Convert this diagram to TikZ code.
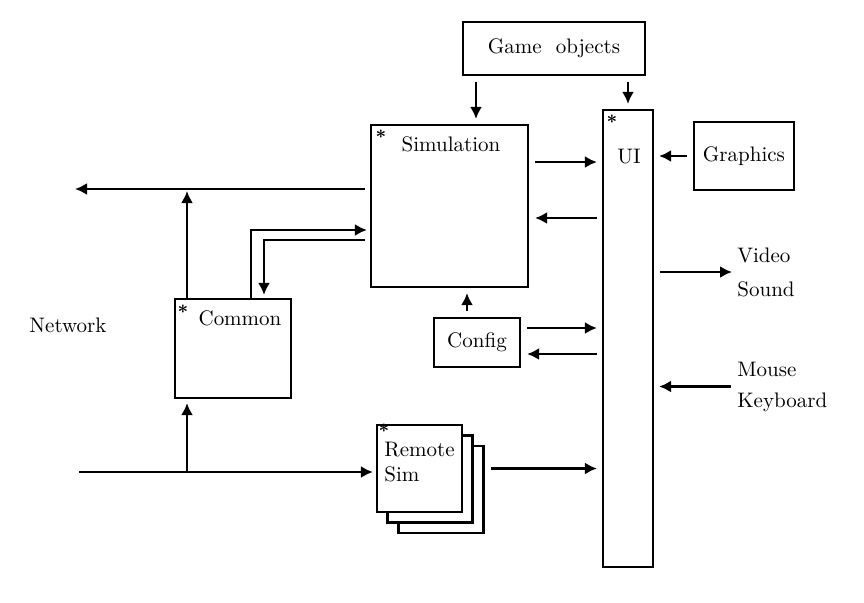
\documentclass[tikz,border=0pt]{standalone}
\usepackage{amssymb}
\usepackage{amsmath}
\usepackage{tikz}
\usetikzlibrary{arrows.meta}

\tikzset{
  >={Latex[length=6pt,width=6pt]},
  blk/.style={draw, line width=1.1pt, inner sep=0pt, fill=white},
  wire/.style={line width=1.1pt},
  spaced/.style={shorten <=3pt, shorten >=2.5pt},
  star/.style={inner sep=0pt, font=\small\bfseries},
  txt/.style={inner sep=0pt, font=\fontsize{10.5}{13}\selectfont}
}

\begin{document}
\begin{tikzpicture}[x=0.5pt,y=-0.5pt]
\useasboundingbox (0,0) rectangle (864,602);

\node [blk, txt, minimum width=91pt, minimum height=26.5pt] (game) at (554,48.5) {Game\ \ objects};

\node [blk, minimum width=78.5pt, minimum height=81pt] (sim) at (449.5,206) {};
\node [txt] (simlbl) at (451,144) {Simulation};
\node [star] (simstar) at (381,137) {*};

\node [blk, minimum width=25pt, minimum height=228.5pt] (ui) at (628,338.5) {};
\node [txt] (uilbl) at (629,157) {UI};
\node [star] (uistar) at (612,122) {*};

\node [blk, txt, minimum width=50pt, minimum height=34pt] (gfx) at (744,156) {Graphics};

\node [blk, minimum width=58pt, minimum height=49.5pt] (common) at (233,348.5) {};
\node [txt] (commonlbl) at (240,318) {Common};
\node [star] (commonstar) at (183,312) {*};

\node [blk, txt, minimum width=43pt, minimum height=24.5pt] (config) at (477,342.5) {Config};

\node [blk, minimum width=42.5pt, minimum height=43.5pt] (rs3) at (441,489.5) {};
\node [blk, minimum width=42.5pt, minimum height=43.5pt] (rs2) at (430,479) {};
\node [blk, minimum width=42.5pt, minimum height=43.5pt] (rs1) at (419.5,468.5) {};
\node [txt, anchor=west, align=left] (rslbl) at (384,462) {Remote\\[-0.5pt]Sim};
\node [star] (rsstar) at (384,431) {*};

\node [txt] (net) at (68,325) {Network};
\node [txt, anchor=west, align=left] (av) at (737,272) {Video\\[4pt]Sound};
\node [txt, anchor=west, align=left] (input) at (737,386.5) {Mouse\\[2.5pt]Keyboard};

\coordinate (netout) at (75,189);
\coordinate (netin) at (79,472);

\draw [wire, ->, spaced] ([xshift=-39pt]game.south) -- ([xshift=-39pt]game.south |- sim.north);
\draw [wire, ->, spaced] (ui.north |- game.south) -- (ui.north);
\draw [wire, ->, spaced] (gfx.west) -- (gfx.west -| ui.east);

\draw [wire, ->, spaced] ([yshift=22pt]sim.east) -- ([yshift=22pt]sim.east -| ui.west);
\draw [wire, <-, spaced] ([yshift=-6pt]sim.east) -- ([yshift=-6pt]sim.east -| ui.west);

\draw [wire, ->, shorten <=2.5pt] ([yshift=8.5pt]sim.west) -- (netout);
\draw [wire, ->, shorten >=1pt] ([xshift=-23pt]common.north) -- ([xshift=-23pt]common.north |- netout);
\draw [wire, ->, shorten >=1.5pt] ([xshift=9pt]common.north) |- ([yshift=-12pt]sim.west);
\draw [wire, ->, shorten <=2.5pt, shorten >=1.5pt] ([yshift=-17pt]sim.west) -| ([xshift=15.5pt]common.north);

\draw [wire, ->, spaced] ([xshift=-5pt]config.north) -- ([xshift=-5pt]config.north |- sim.south);
\draw [wire, ->, spaced] ([yshift=7.25pt]config.east) -- ([yshift=7.25pt]config.east -| ui.west);
\draw [wire, <-, spaced] ([yshift=-5.75pt]config.east) -- ([yshift=-5.75pt]config.east -| ui.west);

\draw [wire, ->, shorten >=1.5pt] (netin) -- (rs1.west |- netin);
\draw [wire, ->, shorten >=2pt] ([xshift=-23pt]common.south |- netin) -- ([xshift=-23pt]common.south);
\draw [wire, ->, spaced] (rs3.east |- rs1.east) -- (rs1.east -| ui.west);

\draw [wire, ->, spaced] (ui.east |- av.west) -- (av.west);
\draw [wire, ->, spaced] (input.west) -- (input.west -| ui.east);

\end{tikzpicture}
\end{document}
